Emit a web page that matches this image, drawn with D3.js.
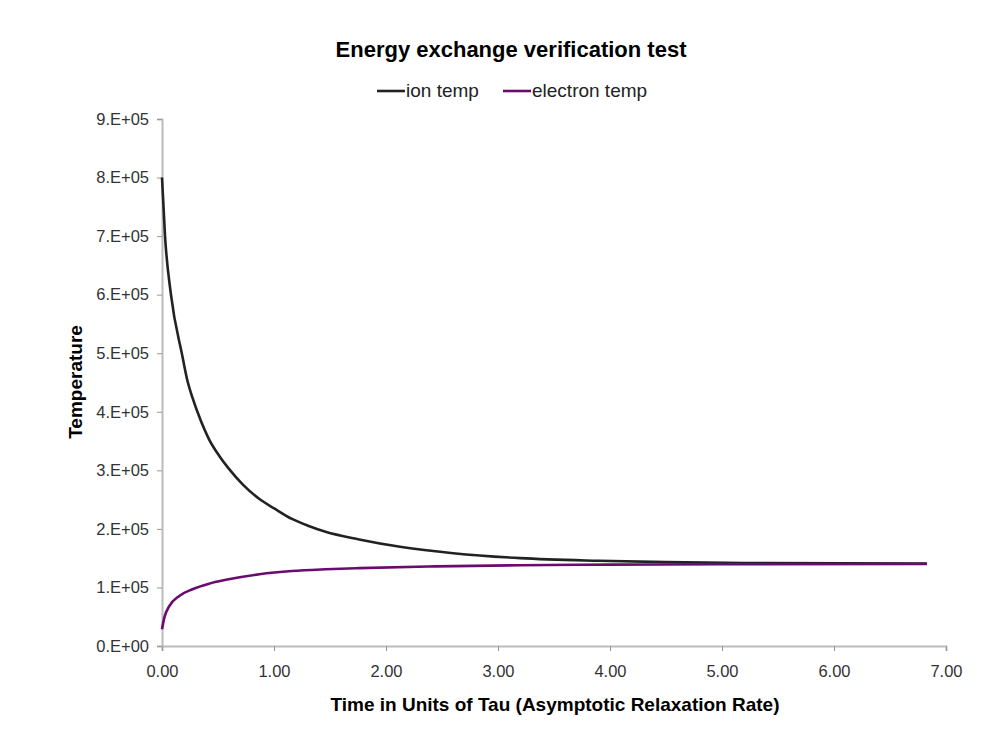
<!DOCTYPE html>
<html>
<head>
<meta charset="utf-8">
<script src="https://cdn.jsdelivr.net/npm/d3@7"></script>
<style>
  body { margin: 0; background: #fff; }
  text { font-family: "Liberation Sans", Arial, sans-serif; }
</style>
</head>
<body>
<svg id="chart" width="1000" height="750"></svg>
<script>
// values
const ionTime = [0, 0.027, 0.08, 0.18, 0.227, 0.272, 0.346, 0.42, 0.51, 0.6, 0.72, 0.87, 1.01, 1.16, 1.31, 1.46, 1.76, 2.14, 2.6, 3.2, 3.9, 4.5, 5.2, 6.83];
const ionTemp = [8.0e5, 7.0e5, 6.0e5, 4.97e5, 4.53e5, 4.24e5, 3.85e5, 3.53e5, 3.25e5, 3.02e5, 2.76e5, 2.51e5, 2.34e5, 2.17e5, 2.05e5, 1.95e5, 1.82e5, 1.69e5, 1.585e5, 1.50e5, 1.455e5, 1.432e5, 1.418e5, 1.41e5];

const elecTime = [0, 0.02, 0.065, 0.154, 0.272, 0.42, 0.57, 0.87, 1.16, 1.46, 1.76, 2.44, 3.2, 4.0, 5.0, 6.83];
const elecTemp = [0.285e5, 0.48e5, 0.68e5, 0.855e5, 0.97e5, 1.065e5, 1.13e5, 1.225e5, 1.28e5, 1.31e5, 1.33e5, 1.36e5, 1.38e5, 1.39e5, 1.395e5, 1.40e5];

const seriesNames = ["ion temp", "electron temp"];
const seriesColors = ["#222222", "#6b0a6f"];

const xTicks = [0, 1, 2, 3, 4, 5, 6, 7];
const yTicks = [0, 1e5, 2e5, 3e5, 4e5, 5e5, 6e5, 7e5, 8e5, 9e5];

const svg = d3.select("#chart");

const margin = { left: 162, right: 54, top: 119, bottom: 104 };
const width = 1000 - margin.left - margin.right;
const height = 750 - margin.top - margin.bottom;

const x = d3.scaleLinear().domain([0, 7]).range([0, width]);
const y = d3.scaleLinear().domain([0, 9e5]).range([height, 0]);

const g = svg.append("g").attr("transform", `translate(${margin.left},${margin.top})`);

const fmtY = (d) => {
  const e = d === 0 ? 0 : Math.floor(Math.log10(d));
  const m = d === 0 ? 0 : d / Math.pow(10, e);
  return `${m.toFixed(0)}.E+${String(e).padStart(2, "0")}`;
};

// y axis
const yAxis = g.append("g")
  .call(d3.axisLeft(y).tickValues(yTicks).tickSize(5).tickPadding(8).tickFormat(fmtY));
yAxis.select(".domain").attr("stroke", "#bbbbbb").attr("stroke-width", 2);
yAxis.selectAll(".tick line").attr("stroke", "#999").attr("stroke-width", 1);
yAxis.selectAll(".tick text").attr("font-size", 16.5).attr("fill", "#333")
  .attr("font-family", "Liberation Sans, Arial, sans-serif");

// x axis
const xAxis = g.append("g")
  .attr("transform", `translate(0,${height})`)
  .call(d3.axisBottom(x).tickValues(xTicks).tickSize(5).tickPadding(14).tickFormat(d3.format(".2f")));
xAxis.select(".domain").attr("stroke", "#bbbbbb").attr("stroke-width", 2);
xAxis.selectAll(".tick line").attr("stroke", "#999").attr("stroke-width", 1);
xAxis.selectAll(".tick text").attr("font-size", 16.5).attr("fill", "#333")
  .attr("font-family", "Liberation Sans, Arial, sans-serif");

// lines
const line = d3.line()
  .x((d) => x(d[0]))
  .y((d) => y(d[1]))
  .curve(d3.curveMonotoneX);

const series = [
  d3.zip(ionTime, ionTemp),
  d3.zip(elecTime, elecTemp),
];

series.forEach((pts, i) => {
  g.append("path")
    .datum(pts)
    .attr("fill", "none")
    .attr("stroke", seriesColors[i])
    .attr("stroke-width", 2.6)
    .attr("d", line);
});

// title
svg.append("text")
  .attr("x", 511).attr("y", 57)
  .attr("text-anchor", "middle")
  .attr("font-size", 22).attr("font-weight", "bold")
  .text("Energy exchange verification test");

// legend
const legendX = [377, 503];
seriesNames.forEach((name, i) => {
  svg.append("line")
    .attr("x1", legendX[i]).attr("x2", legendX[i] + 28)
    .attr("y1", 91).attr("y2", 91)
    .attr("stroke", seriesColors[i]).attr("stroke-width", 2.6);
  svg.append("text")
    .attr("x", legendX[i] + 29).attr("y", 97)
    .attr("font-size", 19).attr("fill", "#222")
    .text(name);
});

// axis titles
svg.append("text")
  .attr("x", 555).attr("y", 711)
  .attr("text-anchor", "middle")
  .attr("font-size", 19).attr("font-weight", "bold")
  .text("Time in Units of Tau (Asymptotic Relaxation Rate)");

svg.append("text")
  .attr("transform", "translate(82,382) rotate(-90)")
  .attr("text-anchor", "middle")
  .attr("font-size", 19).attr("font-weight", "bold")
  .text("Temperature");
</script>
</body>
</html>
